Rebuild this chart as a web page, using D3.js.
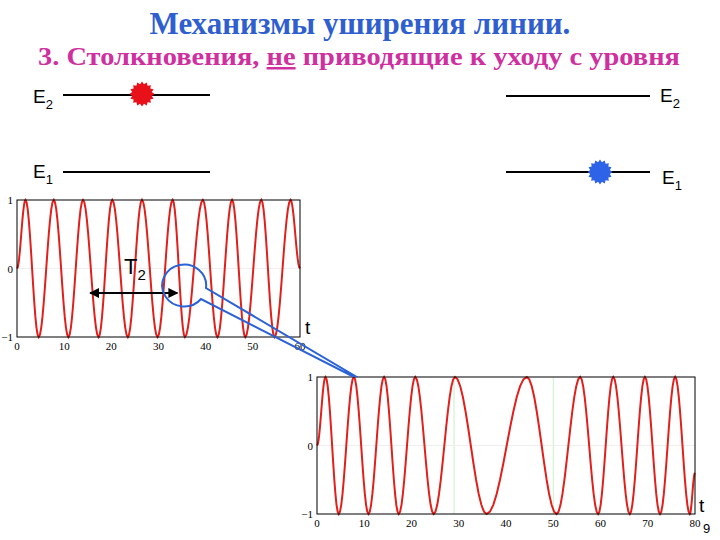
<!DOCTYPE html>
<html><head><meta charset="utf-8">
<script src="https://cdn.jsdelivr.net/npm/d3@7"></script>
<style>body{margin:0;background:#fff}</style>
</head><body>
<svg id="c" width="720" height="540"></svg>
<script>
// extrema of the oscillation (time, value)
var topExtT = [0, 1.8, 4.6, 7.8, 10.9, 14, 17.3, 20.2, 23.5, 26.5, 29.8, 33, 35.6, 39.4, 42.5, 45.6, 48.4, 51.8, 54.6, 58, 60];
var topExtV = [0, 1, -1, 1, -1, 1, -1, 1, -1, 1, -1, 1, -1, 1, -1, 1, -1, 1, -1, 1, 0];
var botExtT = [0, 1.8, 4.6, 7.8, 10.9, 14.2, 17.3, 20.8, 24.7, 29.2, 35.9, 44.4, 50.7, 55.7, 59.5, 62.7, 66.2, 69.4, 72.6, 75.8, 78.9, 80];
var botExtV = [0, 1, -1, 1, -1, 1, -1, 1, -1, 1, -1, 1, -1, 1, -1, 1, -1, 1, -1, 1, -1, -0.4];
var topTicks = [0, 10, 20, 30, 40, 50, 60];
var botTicks = [0, 10, 20, 30, 40, 50, 60, 70, 80];
var yTicks = [-1, 0, 1];

var svg = d3.select('#c');
var red = '#e0201c';

svg.append('text').attr('x', 360).attr('y', 34).attr('text-anchor', 'middle')
   .attr('font-family', 'Liberation Serif').attr('font-weight', 'bold').attr('font-size', 31)
   .attr('fill', '#2f5fcf').text('Механизмы уширения линии.');
var sub = svg.append('text').attr('x', 359).attr('y', 65).attr('text-anchor', 'middle')
   .attr('font-family', 'Liberation Serif').attr('font-weight', 'bold').attr('font-size', 25)
   .attr('textLength', 642).attr('lengthAdjust', 'spacingAndGlyphs')
   .attr('fill', '#cf2f9f');
sub.append('tspan').text('3. Столкновения, ');
sub.append('tspan').attr('text-decoration', 'underline').text('не');
sub.append('tspan').text(' приводящие к уходу с уровня');

function level(x1, x2, y) {
  svg.append('line').attr('x1', x1).attr('x2', x2).attr('y1', y).attr('y2', y)
     .attr('stroke', '#000').attr('stroke-width', 2);
}
function label(x, y, n) {
  var t = svg.append('text').attr('x', x).attr('y', y).attr('font-family', 'Liberation Sans').attr('font-size', 19);
  t.append('tspan').text('E');
  t.append('tspan').attr('font-size', 13).attr('dy', 6).text(n);
}
function star(cx, cy, col) {
  var pts = d3.range(32).map(function(i) {
    var a = i / 32 * 2 * Math.PI, r = i % 2 ? 10 : 12.5;
    return [cx + r * Math.cos(a), cy + r * Math.sin(a)];
  });
  svg.append('polygon').attr('points', pts.join(' ')).attr('fill', col);
}
level(63, 210, 95); label(33, 103, '2'); star(142, 94, '#e8111a');
level(63, 210, 172); label(33, 178, '1');
level(506, 650, 96); label(660, 102, '2');
level(506, 650, 172); label(662, 184, '1'); star(600, 172, '#2e63e8');

function plot(x0, x1, y0, y1, dmax, ticks, et, ev, grid) {
  var x = d3.scaleLinear().domain([0, dmax]).range([x0, x1]);
  var y = d3.scaleLinear().domain([-1, 1]).range([y1, y0]);
  var g = svg.append('g');
  grid.forEach(function(t) {
    g.append('line').attr('x1', x(t)).attr('x2', x(t)).attr('y1', y0).attr('y2', y1)
     .attr('stroke', '#c8f0c8').attr('stroke-width', 1);
  });
  g.append('line').attr('x1', x0).attr('x2', x1).attr('y1', y(0)).attr('y2', y(0)).attr('stroke', '#eee');
  // smooth wave: cosine between successive extrema
  var pts = [];
  for (var i = 0; i < et.length - 1; i++) {
    for (var k = 0; k <= 12; k++) {
      var f = k / 12, s = (1 - Math.cos(Math.PI * f)) / 2;
      pts.push([et[i] + (et[i + 1] - et[i]) * f, ev[i] + (ev[i + 1] - ev[i]) * s]);
    }
  }
  g.append('path').datum(pts).attr('fill', 'none').attr('stroke', red).attr('stroke-width', 2)
   .attr('d', d3.line().x(function(d) { return x(d[0]); }).y(function(d) { return y(d[1]); }));
  g.append('rect').attr('x', x0).attr('y', y0).attr('width', x1 - x0).attr('height', y1 - y0)
   .attr('fill', 'none').attr('stroke', '#000').attr('stroke-width', 1);
  ticks.forEach(function(t) {
    g.append('text').attr('x', x(t)).attr('y', y1 + 13).attr('text-anchor', 'middle')
     .attr('font-family', 'Liberation Serif').attr('font-size', 11).text(t);
  });
  yTicks.forEach(function(t) {
    g.append('text').attr('x', x0 - 4).attr('y', y(t) + 4).attr('text-anchor', 'end')
     .attr('font-family', 'Liberation Serif').attr('font-size', 11).text(t === -1 ? '\u22121' : t);
  });
  return x;
}
var xt = plot(17, 300, 200, 337, 60, topTicks, topExtT, topExtV, []);
var xb = plot(317, 695, 377, 514, 80, botTicks, botExtT, botExtV, [29, 50]);

svg.append('text').attr('x', 305).attr('y', 334).attr('font-family', 'Liberation Sans').attr('font-size', 19).text('t');
svg.append('text').attr('x', 699).attr('y', 512).attr('font-family', 'Liberation Sans').attr('font-size', 19).text('t');
svg.append('text').attr('x', 703).attr('y', 533).attr('font-family', 'Liberation Sans').attr('font-size', 13).text('9');

// T2 arrow
var at = svg.append('text').attr('x', 124).attr('y', 274).attr('font-family', 'Liberation Sans').attr('font-size', 22);
at.append('tspan').text('T');
at.append('tspan').attr('font-size', 15).attr('dy', 6).text('2');
svg.append('defs').append('marker').attr('id', 'ah').attr('viewBox', '0 0 10 10').attr('refX', 9).attr('refY', 5)
   .attr('markerWidth', 5).attr('markerHeight', 5).attr('orient', 'auto-start-reverse')
   .append('path').attr('d', 'M0,0L10,5L0,10z');
svg.append('line').attr('x1', xt(15.5)).attr('x2', xt(34)).attr('y1', 293).attr('y2', 293)
   .attr('stroke', '#000').attr('stroke-width', 2)
   .attr('marker-start', 'url(#ah)').attr('marker-end', 'url(#ah)');

// magnifier
svg.append('path')
   .attr('d', 'M206,288 A22,21 0 1 0 201,299 L352,376 L355,376 Z')
   .attr('fill', 'none').attr('stroke', '#2a62d8').attr('stroke-width', 2);
</script>
</body></html>
